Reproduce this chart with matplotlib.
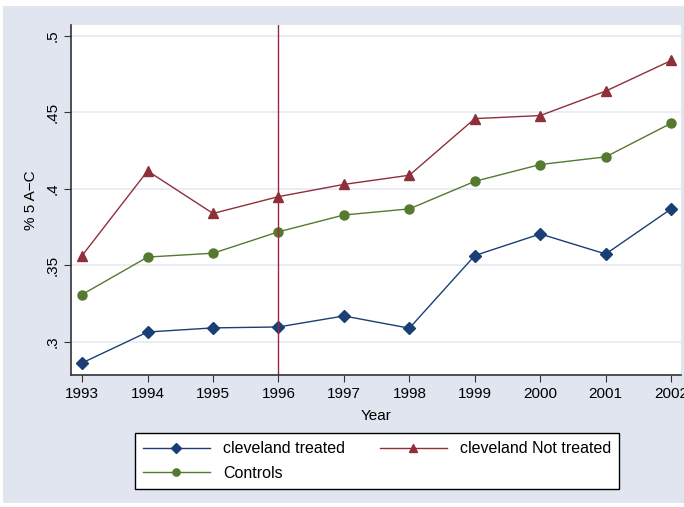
import matplotlib.pyplot as plt
from matplotlib.patches import Rectangle

years = [1993, 1994, 1995, 1996, 1997, 1998, 1999, 2000, 2001, 2002]
treated = [0.2863, 0.3065, 0.3092, 0.3098, 0.3170, 0.3090, 0.3565, 0.3706, 0.3575, 0.3870]
not_treated = [0.3565, 0.4118, 0.3840, 0.3950, 0.4030, 0.4090, 0.4460, 0.4480, 0.4640, 0.4840]
controls = [0.3310, 0.3555, 0.3580, 0.3720, 0.3830, 0.3870, 0.4050, 0.4160, 0.4210, 0.4430]
yticks = [0.3, 0.35, 0.4, 0.45, 0.5]
ytick_labels = ['.3', '.35', '.4', '.45', '.5']
event_year = 1996

plt.rcParams['font.family'] = ['Liberation Sans', 'DejaVu Sans']

bg = '#e0e5ef'
navy = '#1a3f75'
maroon = '#8e2f3a'
green = '#55792f'

fig = plt.figure(figsize=(6.84, 5.07), dpi=100, facecolor='white')
# light blue graph region with a thin white margin round it
fig.patches.append(Rectangle((3 / 684, 4 / 507), 681 / 684, 497 / 507,
                             transform=fig.transFigure, facecolor=bg,
                             edgecolor='none', zorder=-10))

ax = fig.add_axes([71 / 684, 1 - 375 / 507, 610 / 684, 350 / 507])
ax.set_facecolor('white')

ax.plot(years, treated, color=navy, lw=1, marker='D', ms=6, label='cleveland treated')
ax.plot(years, controls, color=green, lw=1, marker='o', ms=6.5, label='Controls')
ax.plot(years, not_treated, color=maroon, lw=1, marker='^', ms=7, label='cleveland Not treated')
ax.axvline(event_year, color='#a0243c', lw=1)

ax.set_xlim(1992.83, 2002.15)
ax.set_ylim(0.2784, 0.5072)
ax.set_xticks(years)
ax.set_yticks(yticks)
ax.set_yticklabels(ytick_labels, rotation=90, va='center')
ax.grid(axis='y', color='#e6eaf2', lw=1.2)
ax.set_axisbelow(True)

for s in ['top', 'right']:
    ax.spines[s].set_visible(False)
for s in ['left', 'bottom']:
    ax.spines[s].set_color('#333333')
    ax.spines[s].set_linewidth(1.2)
ax.tick_params(axis='both', direction='out', length=5, color='#333333', labelsize=11)
ax.tick_params(axis='y', pad=3)

ax.set_xlabel('Year', fontsize=11, labelpad=6)
ax.set_ylabel('% 5 A\u2212C', fontsize=11, labelpad=6)

leg = fig.legend(loc='center', bbox_to_anchor=(377 / 684, 1 - 461 / 507), ncol=2,
                 fontsize=11.5, frameon=True, fancybox=False, edgecolor='black',
                 framealpha=1, handlelength=4.2, handletextpad=0.8,
                 columnspacing=2.2, markerscale=0.8,
                 borderpad=0.5, labelspacing=0.6)
leg.get_frame().set_linewidth(1)

fig.savefig('out.png', dpi=100, facecolor=fig.get_facecolor())
